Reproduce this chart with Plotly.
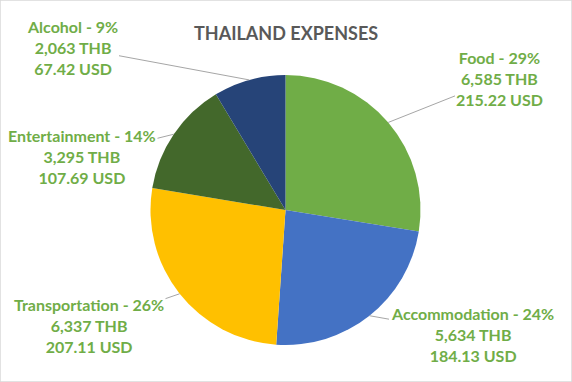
import math
import plotly.graph_objects as go

categories = ["Food", "Accommodation", "Transportation", "Entertainment", "Alcohol"]
thb_values = [6585, 5634, 6337, 3295, 2063]
pct_labels = ["29%", "24%", "26%", "14%", "9%"]
usd_values = [215.22, 184.13, 207.11, 107.69, 67.42]
colors = ["#70AD47", "#4472C4", "#FFC000", "#43682B", "#264478"]

W, H = 572, 382
# label centre positions in pixels (layout)
label_pos = {
    "Food": (500, 78),
    "Accommodation": (472, 334),
    "Transportation": (89, 325),
    "Entertainment": (82, 157),
    "Alcohol": (72, 47),
}

dom_x = [150 / W, 421 / W]
dom_y = [1 - 345 / H, 1 - 75 / H]
cx = (dom_x[0] + dom_x[1]) / 2 * W
cy = (1 - (dom_y[0] + dom_y[1]) / 2) * H
r = min((dom_x[1] - dom_x[0]) * W, (dom_y[1] - dom_y[0]) * H) / 2

fig = go.Figure(go.Pie(
    labels=categories,
    values=thb_values,
    sort=False,
    direction="clockwise",
    rotation=0,
    marker=dict(colors=colors, line=dict(width=0)),
    textinfo="none",
    hoverinfo="label+value",
    domain=dict(x=dom_x, y=dom_y),
    showlegend=False,
))

total = sum(thb_values)
cum = 0
annotations = []
for cat, v, p, usd in zip(categories, thb_values, pct_labels, usd_values):
    mid = (cum + v / 2) / total * 2 * math.pi
    cum += v
    tx = cx + r * math.sin(mid)
    ty = cy - r * math.cos(mid)
    lx, ly = label_pos[cat]
    text = f"<b>{cat} - {p}</b><br><b>{v:,} THB</b><br><b>{usd:.2f} USD</b>"
    annotations.append(dict(
        x=tx / W, y=1 - ty / H, xref="paper", yref="paper",
        ax=lx - tx, ay=ly - ty, axref="pixel", ayref="pixel",
        text=text, showarrow=True, arrowhead=0, arrowwidth=1,
        arrowcolor="#A6A6A6", standoff=0,
        font=dict(family="Lato", size=16, color="#70AD47"),
        align="center",
    ))

annotations.append(dict(
    x=286 / W, y=1 - 20 / H, xref="paper", yref="paper", showarrow=False,
    text="<b>THAILAND EXPENSES</b>",
    font=dict(family="Lato", size=18, color="#595959"),
))

fig.update_layout(
    width=W, height=H,
    margin=dict(l=0, r=0, t=0, b=0),
    paper_bgcolor="white",
    plot_bgcolor="white",
    annotations=annotations,
    shapes=[dict(type="rect", xref="paper", yref="paper", x0=0, y0=0, x1=1, y1=1,
                 line=dict(color="#D9D9D9", width=1.5))],
)

fig.write_html("out.html")
